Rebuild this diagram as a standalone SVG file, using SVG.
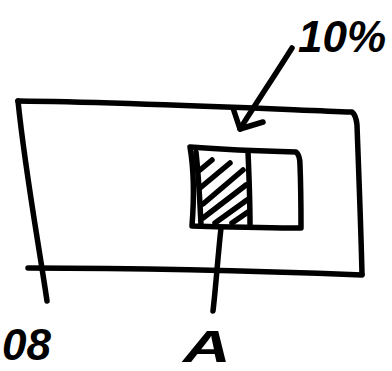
<svg xmlns="http://www.w3.org/2000/svg" width="392" height="371" viewBox="0 0 392 371">
<style>
.s{fill:none;stroke:#000;stroke-width:5.5;stroke-linecap:round;stroke-linejoin:round}
.h{fill:none;stroke:#000;stroke-width:5.5;stroke-linecap:round}
.t{font-family:"Liberation Sans",Arial,sans-serif;fill:#000;font-size:44px;font-weight:bold;font-style:italic}
</style>
<rect width="392" height="371" fill="#fff"/>
<g id="outer">
<path class="s" d="M18,101 C120,102 250,108 352,112 Q356,115 357,125 C359,180 361,230 362,274"/>
<path class="s" d="M28,268 C140,268 260,271 362,275"/>
<path class="s" d="M18,101 C25,170 38,240 47,301"/>
</g>
<g id="inner">
<path class="s" d="M190,147 C230,150 260,151 296,152 Q300,155 300,165 C301,190 301,210 301,228 C265,228 230,227 192,226 C194,200 194,170 190,147 Z"/>
<path class="s" d="M248,152 C249,175 250,200 250,225"/>
<path class="h" d="M200,170 L212,160 M200,188 L230,163 M203,204 L243,170 M203,218 L246,185 M215,223 L247,200 M232,223 L248,212"/>
<path class="s" d="M196,152 C199,180 200,205 201,225"/>
</g>
<g id="connectors">
<path class="s" d="M292,48 C275,75 255,105 240,129"/>
<path class="s" d="M233,108 L240,129 L263,122"/>
<path class="s" d="M221,228 C218,255 216,285 213,311"/>
</g>
<g id="labels">
<text class="t" x="298" y="52">10%</text>
<text class="t" x="183" y="362" transform="translate(183,362) scale(1.5,1) translate(-183,-362)">A</text>
<text class="t" x="2" y="360">08</text>
</g>
</svg>
